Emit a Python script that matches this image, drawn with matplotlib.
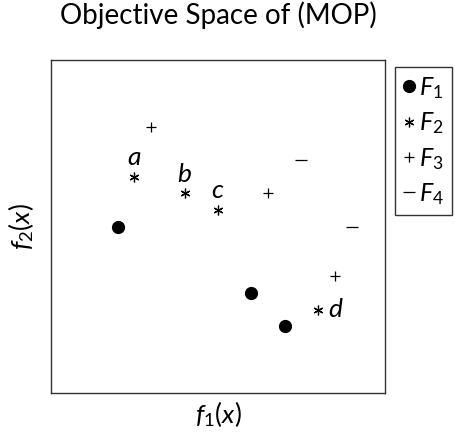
import matplotlib
matplotlib.use("Agg")
import matplotlib.pyplot as plt
from matplotlib.lines import Line2D

plt.rcParams['font.family'] = ['Lato', 'DejaVu Sans']
plt.rcParams['mathtext.fontset'] = 'custom'
plt.rcParams['mathtext.rm'] = 'Lato'
plt.rcParams['mathtext.it'] = 'Lato:italic'
plt.rcParams['mathtext.bf'] = 'Lato:bold'

# Objective values of the four sets
f1_x = [2, 6, 7]
f1_y = [5, 3, 2]
f2_x = [2.5, 4, 5, 8]
f2_y = [6.5, 6, 5.5, 2.5]
f2_names = ['a', 'b', 'c', 'd']
f3_x = [3, 6.5, 8.5]
f3_y = [8, 6, 3.5]
f4_x = [7.5, 9]
f4_y = [7, 5]

fig = plt.figure(figsize=(4.56, 4.34), dpi=100)
ax = fig.add_axes([51/456, 1 - 393/434, 334/456, 333/434])
ax.set_xlim(0, 10)
ax.set_ylim(0, 10)
ax.set_xticks([])
ax.set_yticks([])
for s in ax.spines.values():
    s.set_linewidth(1.0)
    s.set_color('#333333')

asterisk = (6, 2, 0)
ax.plot(f1_x, f1_y, 'o', color='black', markersize=8.5, linestyle='none')
ax.plot(f2_x, f2_y, marker=asterisk, color='black', markersize=7, mew=0.9, linestyle='none')
ax.plot(f3_x, f3_y, '+', color='black', markersize=7.5, mew=0.9, linestyle='none')
ax.plot(f4_x, f4_y, '_', color='black', markersize=8, mew=0.9, linestyle='none')

# point names for the F2 set
for x, y, n in zip(f2_x, f2_y, f2_names):
    if n == 'd':
        ax.text(x + 0.3, y, f'${n}$', fontsize=19, ha='left', va='center')
    else:
        ax.text(x, y + 0.2, f'${n}$', fontsize=19, ha='center', va='bottom')

ax.set_title('Objective Space of (MOP)', fontsize=20, pad=26)
ax.set_xlabel('$f_1(x)$', fontsize=19, labelpad=4)
ax.set_ylabel('$f_2(x)$', fontsize=19, labelpad=11)

handles = [
    Line2D([], [], marker='o', color='black', markersize=8.5, linestyle='none'),
    Line2D([], [], marker=asterisk, color='black', markersize=7, mew=0.9, linestyle='none'),
    Line2D([], [], marker='+', color='black', markersize=7.5, mew=0.9, linestyle='none'),
    Line2D([], [], marker='_', color='black', markersize=8, mew=0.9, linestyle='none'),
]
labels = ['$F_1$', '$F_2$', '$F_3$', '$F_4$']
leg = fig.legend(handles, labels, loc='upper left', bbox_to_anchor=(395/456, 1 - 67/434),
                 fontsize=18, frameon=True, fancybox=False, edgecolor='black',
                 handlelength=0.45, handletextpad=0.2, borderpad=0.32, labelspacing=0.38,
                 borderaxespad=0)
leg.get_frame().set_linewidth(1.0)

fig.savefig('out.png', dpi=100)
